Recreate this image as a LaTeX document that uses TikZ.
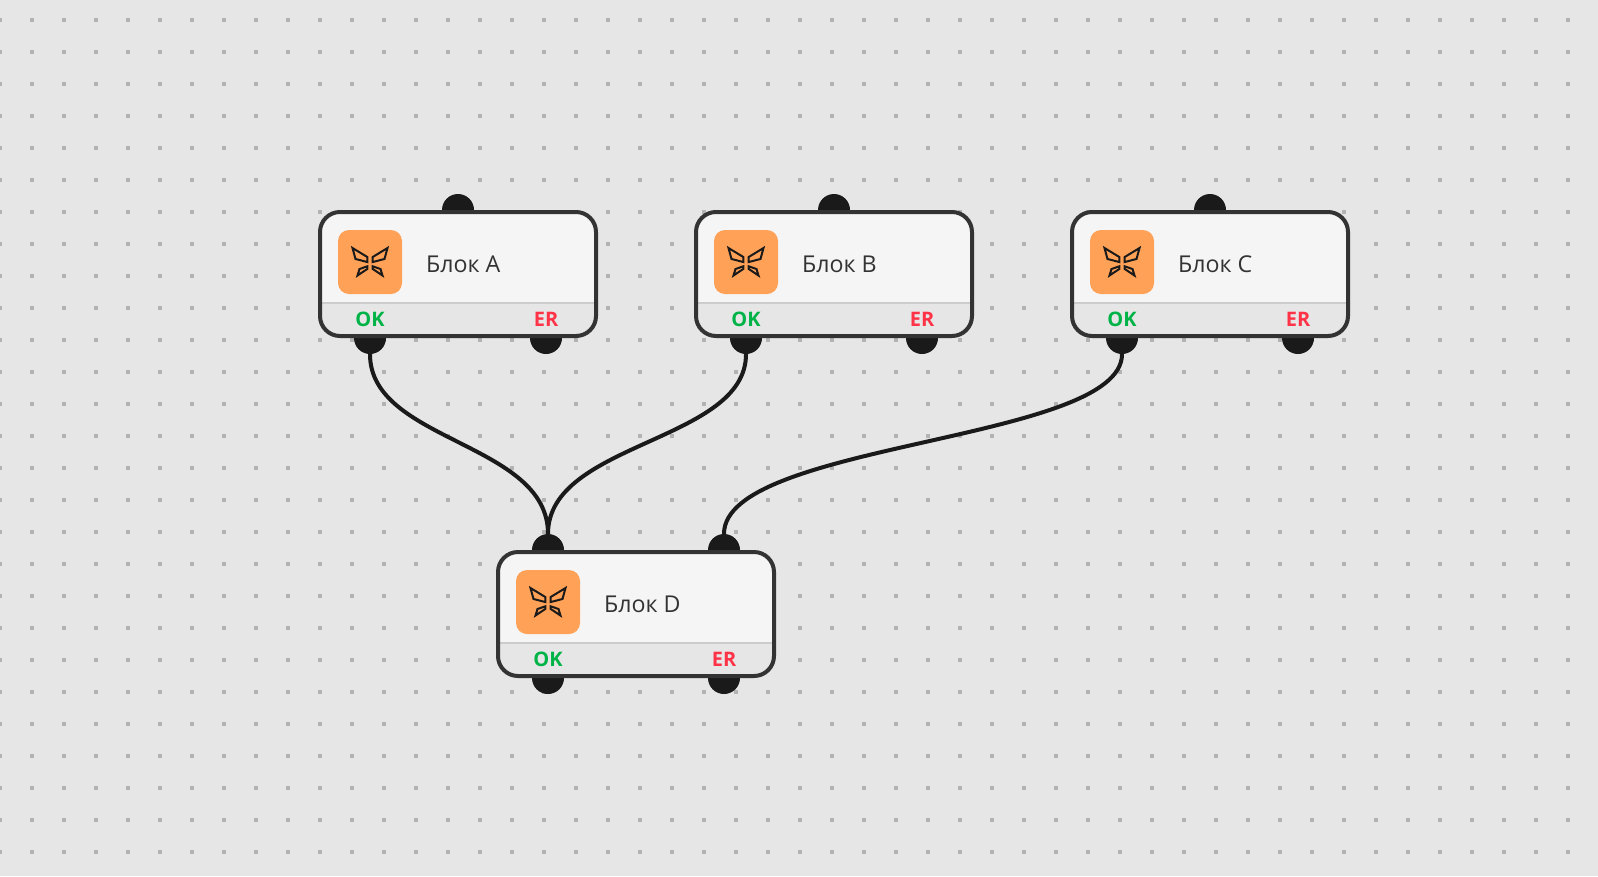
\documentclass[tikz,border=0pt]{standalone}
\usepackage{fontspec}
\setmainfont{Open Sans}
\definecolor{canvas}{HTML}{E6E6E6}
\definecolor{griddot}{HTML}{B3B3B3}
\definecolor{ink}{HTML}{1A1A1A}
\definecolor{frame}{HTML}{333333}
\definecolor{paper}{HTML}{F5F5F5}
\definecolor{rulecol}{HTML}{CCCCCC}
\definecolor{iconbg}{HTML}{FFA257}
\definecolor{okcol}{HTML}{00B347}
\definecolor{ercol}{HTML}{FF3347}
\tikzset{
  portdot/.style={circle,fill=ink,draw=none,minimum size=32pt,inner sep=0pt},
  wire/.style={draw=ink,line width=4pt,line cap=round},
  blockframe/.style={draw=frame,line width=4pt,rounded corners=20pt,minimum width=276pt,minimum height=124pt,inner sep=0pt},
  iconbox/.style={fill=iconbg,draw=none,rounded corners=11pt,minimum size=64pt,inner sep=0pt},
  wing/.style={draw=ink,line width=2pt,line join=miter,miter limit=3},
  blocklabel/.style={anchor=base west,text=frame,font=\fontsize{23.2}{28}\selectfont,inner sep=0pt},
  oklabel/.style={anchor=base,text=okcol,font=\fontsize{20}{24}\selectfont\bfseries,inner sep=0pt},
  erlabel/.style={anchor=base,text=ercol,font=\fontsize{20}{24}\selectfont\bfseries,inner sep=0pt}
}
\newcommand{\blockports}[3]{%
  \begin{scope}[shift={(#2,#3)}]
    \node[portdot] (#1-in1) at (140,0) {};
    \node[portdot] (#1-ok) at (52,128) {};
    \node[portdot] (#1-er) at (228,128) {};
  \end{scope}}
\newcommand{\blockinport}[3]{%
  \begin{scope}[shift={(#2,#3)}]
    \node[portdot] (#1-in1) at (52,0) {};
    \node[portdot] (#1-in2) at (228,0) {};
    \node[portdot] (#1-ok) at (52,128) {};
    \node[portdot] (#1-er) at (228,128) {};
  \end{scope}}
\newcommand{\blockbody}[4]{%
  \begin{scope}[shift={(#2,#3)}]
    \begin{scope}
      \clip[rounded corners=20pt] (2,2) rectangle (278,126);
      \fill[paper] (2,2) rectangle (278,93);
      \fill[canvas] (2,93) rectangle (278,126);
      \fill[rulecol] (2,92) rectangle (278,94);
    \end{scope}
    \node[blockframe] (#1) at (140,64) {};
    \node[iconbox] (#1-icon) at (52,52) {};
    \begin{scope}[shift={(52,52)}]
      \draw[wing] (-17.5,-14) -- (-2.7,-5) -- (-2.7,0) -- (-14.5,-3) -- cycle;
      \draw[wing] (17.5,-14) -- (2.7,-5) -- (2.7,0) -- (14.5,-3) -- cycle;
      \draw[wing] (-10.5,7) -- (-2.7,4.3) -- (-2.7,7) -- (-12.5,13.5) -- cycle;
      \draw[wing] (10.5,7) -- (2.7,4.3) -- (2.7,7) -- (12.5,13.5) -- cycle;
    \end{scope}
    \node[blocklabel] (#1-label) at (108,62) {#4};
    \node[oklabel] (#1-oktext) at (52,116.3) {OK};
    \node[erlabel] (#1-ertext) at (228,116.3) {ER};
  \end{scope}}
\begin{document}
\begin{tikzpicture}[x=1pt,y=-1pt]
  \useasboundingbox (0,0) rectangle (1598,876);
  \fill[canvas] (0,0) rectangle (1598,876);
  \foreach \i in {0,...,49}{
    \foreach \j in {0,...,26}{
      \fill[griddot] ({32*\i-2},{20+32*\j-2}) rectangle ({32*\i+2},{20+32*\j+2});
    }
  }
  \blockports{a}{318}{210}
  \blockports{b}{694}{210}
  \blockports{c}{1070}{210}
  \blockinport{d}{496}{550}
  \draw[wire] (a-ok.south) .. controls (370,442) and (548,442) .. (d-in1.north);
  \draw[wire] (b-ok.south) .. controls (746,442) and (548,442) .. (d-in1.north);
  \draw[wire] (c-ok.south) .. controls (1122,442) and (724,442) .. (d-in2.north);
  \blockbody{a}{318}{210}{Блок A}
  \blockbody{b}{694}{210}{Блок B}
  \blockbody{c}{1070}{210}{Блок C}
  \blockbody{d}{496}{550}{Блок D}
\end{tikzpicture}
\end{document}
